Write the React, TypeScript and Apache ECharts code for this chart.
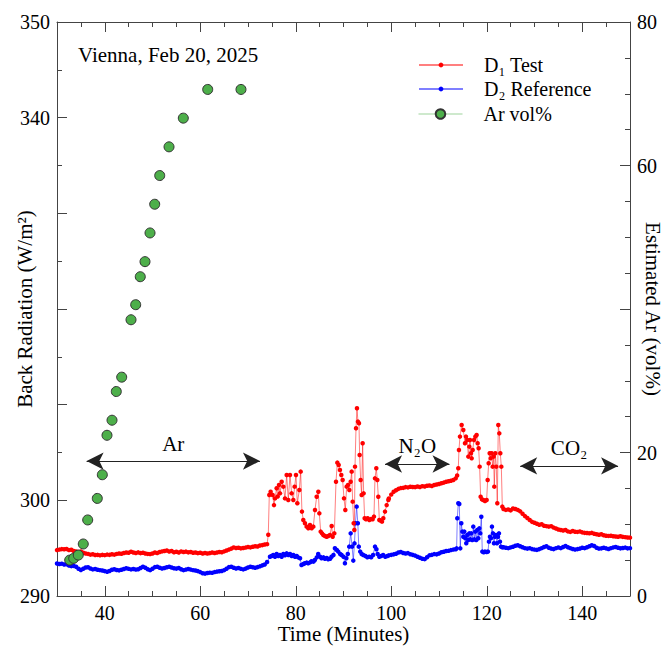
import React, { useEffect, useRef } from "react";
import * as echarts from "echarts";

// ---- axis ticks / labels ----
const timeMajorTicks = [40, 60, 80, 100, 120, 140];
const radiationLabels = [290, 300, 340, 350];
const argonLabels = [0, 20, 60, 80];

// ---- D1 Test (W/m²) ----
// regular 0.5 min samples, 30 → 74 min
const d1Early = [
  294.8, 294.85, 294.9, 294.88, 294.92, 294.8, 294.84, 294.7, 294.66, 294.6,
  294.65, 294.52, 294.45, 294.4, 294.32, 294.36, 294.28, 294.3, 294.25, 294.3,
  294.27, 294.33, 294.3, 294.36, 294.32, 294.4, 294.45, 294.42, 294.5, 294.55,
  294.52, 294.62, 294.55, 294.5, 294.56, 294.48, 294.52, 294.45, 294.4, 294.38,
  294.45, 294.55, 294.5, 294.6, 294.66, 294.7, 294.75, 294.65, 294.7, 294.58,
  294.62, 294.55, 294.66, 294.6, 294.64, 294.56, 294.6, 294.52, 294.55, 294.48,
  294.52, 294.45, 294.5, 294.44, 294.48, 294.55, 294.5, 294.55, 294.6, 294.58,
  294.66, 294.75, 294.85, 294.95, 295.08, 295.02, 295.05, 294.98, 295.02, 295.06,
  295.12, 295.08, 295.15, 295.2, 295.18, 295.28, 295.32, 295.38, 295.42,
];
// Ar flushing, 74 → 99.4 min
const d1BurstAr: [number, number][] = [
  [74.25, 296.4], [74.46, 300.56], [74.74, 300.9], [75.16, 300.56], [75.44, 299.5],
  [75.65, 300.2], [76.0, 301.26], [76.21, 300.4], [76.49, 301.6], [76.7, 300.73],
  [77.05, 301.95], [77.4, 301.43], [77.75, 300.2], [78.1, 302.65], [78.44, 300.04],
  [78.79, 302.65], [79.14, 300.73], [79.49, 300.04], [79.77, 301.43], [80.05, 302.65],
  [80.33, 299.69], [80.75, 301.08], [81.03, 303.0], [81.3, 298.82], [81.58, 297.95],
  [81.93, 297.6], [82.28, 297.25], [82.63, 297.08], [82.98, 297.42], [83.33, 297.08],
  [83.68, 297.25], [84.03, 298.99], [84.38, 300.38], [84.73, 300.9], [84.94, 298.64],
  [85.22, 296.73], [85.5, 296.55], [85.77, 296.38], [86.12, 296.27], [86.47, 296.2],
  [86.82, 296.27], [87.17, 296.38], [87.52, 297.32], [87.73, 296.2], [88.08, 296.55],
  [88.43, 301.95], [88.71, 303.94], [88.99, 303.7], [89.26, 303.17], [89.54, 302.65],
  [89.82, 302.13], [90.1, 300.21], [90.38, 298.99], [90.66, 301.43], [90.94, 301.6],
  [91.22, 301.08], [91.5, 301.95], [91.71, 303.0], [91.92, 299.86], [92.13, 297.6],
  [92.27, 296.9], [92.41, 303.52], [92.62, 307.53], [92.82, 309.62], [93.03, 308.23],
  [93.24, 308.05], [93.38, 304.74], [93.59, 302.13], [93.8, 300.56], [94.01, 305.96],
  [94.22, 300.73], [94.43, 298.12], [94.71, 298.02], [95.06, 298.12], [95.41, 297.95],
  [95.76, 298.05], [96.1, 298.02], [96.38, 298.3], [96.59, 302.3], [96.87, 303.35],
  [97.08, 302.13], [97.29, 300.38], [97.5, 297.95], [97.78, 297.88], [98.06, 297.77],
  [98.34, 298.12], [98.69, 298.82], [99.04, 299.5], [99.39, 300.04],
];
// N2O flushing, 99.5 → 113.5 min
const d1Mid = [
  300.2, 300.6, 300.9, 301.05, 301.2, 301.28, 301.3, 301.38, 301.35, 301.42,
  301.4, 301.38, 301.45, 301.4, 301.48, 301.45, 301.52, 301.55, 301.5, 301.6,
  301.65, 301.7, 301.78, 301.85, 301.95, 302.0, 302.05, 302.12, 302.3,
];
// second burst, 113.8 → 123.3 min
const d1BurstN2O: [number, number][] = [
  [113.8, 302.6], [114.04, 303.35], [114.18, 305.26], [114.39, 306.66], [114.74, 307.88],
  [115.09, 307.35], [115.44, 305.96], [115.65, 306.66], [115.93, 306.31], [116.14, 304.57],
  [116.35, 305.61], [116.49, 306.31], [116.7, 304.92], [116.84, 304.39], [117.05, 305.26],
  [117.33, 306.31], [117.61, 306.66], [117.88, 306.83], [118.09, 305.96], [118.3, 305.44],
  [118.51, 303.52], [118.72, 300.38], [119.0, 300.1], [119.28, 300.04], [119.63, 299.93],
  [119.98, 300.04], [120.19, 302.13], [120.4, 303.87], [120.61, 304.92], [120.82, 304.39],
  [121.03, 304.92], [121.24, 303.52], [121.44, 304.57], [121.58, 301.43], [121.79, 304.92],
  [122.0, 303.52], [122.21, 299.69], [122.42, 307.88], [122.63, 307.0], [122.84, 304.92],
  [123.05, 303.52], [123.26, 299.34],
];
// CO2 flushing, 123.5 → 150 min
const d1Late = [
  299.1, 299.0, 299.05, 298.95, 299.15, 299.1, 299.0, 298.85, 298.6, 298.35,
  298.15, 297.95, 297.75, 297.65, 297.55, 297.45, 297.5, 297.35, 297.3, 297.25,
  297.3, 297.15, 297.05, 296.95, 296.9, 296.85, 296.9, 296.75, 296.7, 296.8,
  296.72, 296.7, 296.75, 296.65, 296.6, 296.58, 296.55, 296.6, 296.5, 296.45,
  296.4, 296.45, 296.35, 296.3, 296.28, 296.3, 296.25, 296.22, 296.2, 296.25,
  296.18, 296.15, 296.12, 296.1,
];

// ---- D2 Reference (W/m²) ----
const d2Early = [
  293.4, 293.35, 293.38, 293.3, 293.32, 293.18, 293.12, 293.15, 293.05, 292.85,
  292.72, 292.85, 292.98, 293.0, 292.88, 292.78, 292.82, 292.74, 292.7, 292.66,
  292.6, 292.54, 292.62, 292.75, 292.8, 292.72, 292.68, 292.74, 292.82, 292.9,
  292.84, 292.78, 292.82, 292.76, 292.8, 292.92, 293.05, 292.95, 292.8, 292.7,
  292.85, 293.02, 293.05, 292.95, 292.88, 292.92, 293.0, 293.06, 292.98, 292.9,
  292.86, 292.92, 292.8, 292.7, 292.76, 292.82, 292.76, 292.7, 292.66, 292.6,
  292.5, 292.38, 292.34, 292.4, 292.44, 292.42, 292.5, 292.55, 292.58, 292.62,
  292.7, 292.85, 293.02, 293.06, 292.96, 292.88, 292.92, 292.84, 292.78, 292.86,
  292.98, 293.06, 293.0, 292.96, 293.02, 293.1, 293.2, 293.3, 293.55,
];
const d2BurstAr: [number, number][] = [
  [74.6, 294.1], [74.95, 294.18], [75.3, 294.29], [75.65, 294.11], [76.0, 294.39],
  [76.35, 294.18], [76.7, 294.29], [77.05, 294.11], [77.4, 294.39], [77.75, 294.25],
  [78.1, 294.46], [78.45, 294.29], [78.8, 294.39], [79.15, 294.18], [79.5, 294.29],
  [79.84, 294.11], [80.2, 294.18], [80.5, 294.04], [80.9, 293.94], [81.2, 293.24],
  [81.6, 293.35], [81.9, 293.42], [82.3, 293.49], [82.6, 293.42], [83.0, 293.52],
  [83.3, 293.63], [83.7, 293.59], [84.0, 293.77], [84.4, 294.04], [84.7, 294.39],
  [85.1, 294.11], [85.4, 293.94], [85.8, 294.04], [86.1, 293.9], [86.5, 293.97],
  [86.8, 293.84], [87.2, 293.9], [87.5, 294.11], [87.9, 294.29], [88.2, 294.99],
  [88.6, 294.81], [88.9, 294.64], [89.3, 294.39], [89.6, 294.29], [90.0, 294.11],
  [90.3, 293.42], [90.6, 293.94], [90.9, 294.39], [91.2, 295.16], [91.5, 296.55],
  [91.8, 295.16], [92.05, 293.7], [92.3, 295.5], [92.5, 297.6], [92.75, 299.34],
  [93.0, 297.6], [93.2, 295.16], [93.5, 294.64], [93.8, 294.39], [94.15, 294.29],
  [94.6, 294.18], [95.0, 294.04], [95.4, 294.11], [95.8, 294.04], [96.2, 294.29],
  [96.6, 295.16], [96.9, 294.88], [97.15, 294.39], [97.5, 294.11], [97.9, 294.18],
  [98.3, 294.29], [98.75, 294.11], [99.2, 294.18],
];
const d2Mid = [
  294.25, 294.3, 294.35, 294.42, 294.55, 294.6, 294.5, 294.45, 294.48, 294.36,
  294.3, 294.22, 294.1, 294.0, 293.9, 293.85, 294.05, 294.25, 294.3, 294.38,
  294.35, 294.45, 294.58, 294.62, 294.7, 294.72, 294.8, 294.85, 294.88,
];
const d2BurstN2O: [number, number][] = [
  [113.69, 294.98], [113.83, 298.12], [114.04, 299.69], [114.25, 299.62], [114.46, 294.98],
  [114.67, 297.6], [114.88, 296.73], [115.09, 296.2], [115.3, 296.73], [115.5, 296.03],
  [115.71, 295.51], [115.92, 296.38], [116.13, 295.86], [116.34, 296.55], [116.55, 295.92],
  [116.76, 296.55], [116.97, 295.86], [117.18, 297.25], [117.39, 295.92], [117.6, 296.73],
  [117.81, 295.86], [118.02, 296.9], [118.23, 296.03], [118.44, 297.07], [118.65, 296.55],
  [118.86, 298.29], [119.07, 294.64], [119.35, 294.57], [119.62, 294.64], [119.97, 294.6],
  [120.25, 294.64], [120.46, 295.68], [120.67, 296.2], [120.88, 296.03], [121.09, 297.25],
  [121.3, 296.55], [121.51, 295.51], [121.72, 296.2], [121.93, 296.38], [122.14, 295.51],
  [122.35, 296.2], [122.56, 296.55], [122.77, 295.68], [122.98, 295.16], [123.25, 295.09],
];
const d2Late = [
  295.1, 295.05, 295.0, 295.08, 295.15, 295.25, 295.3, 295.2, 295.1, 295.0,
  294.95, 295.0, 294.9, 294.85, 294.82, 294.9, 295.0, 295.12, 295.2, 295.05,
  294.95, 294.9, 295.0, 295.08, 295.0, 295.12, 295.22, 295.1, 295.0, 294.92,
  294.85, 294.9, 294.95, 295.05, 295.0, 295.1, 295.2, 295.3, 295.22, 295.05,
  294.95, 294.98, 295.05, 294.98, 294.92, 295.0, 295.08, 295.12, 295.05, 294.98,
  295.02, 295.06, 294.98, 295.0,
];

// ---- estimated Ar content (vol%) ----
const argonTime = [
  32.66, 33.5, 34.46, 35.5, 36.43, 38.44, 39.49, 40.47, 41.52, 42.42, 43.55,
  45.5, 46.48, 47.44, 48.43, 49.48, 50.46, 51.51, 53.46, 56.45, 61.56, 68.53,
];
const argonVol = [
  5.0, 5.25, 5.7, 7.25, 10.6, 13.6, 16.9, 22.4, 24.5, 28.5, 30.5,
  38.5, 40.6, 44.5, 46.6, 50.6, 54.6, 58.6, 62.6, 66.6, 70.6, 70.6,
];

// ---- gas flushing spans (minutes, W/m² level) ----
const spanNames = ["Ar", "N₂O", "CO₂"];
const spanStart = [36.2, 98.7, 127.0];
const spanEnd = [72.5, 112.2, 147.5];
const spanLevel = [304.1, 303.8, 303.6];

const FONT = "'Liberation Serif', 'Times New Roman', Times, serif";
const AXIS_COLOR = "#444";

function sampled(start: number, step: number, values: number[]): [number, number][] {
  return values.map((v, i) => [Number((start + i * step).toFixed(2)), v]);
}

const testData = [
  ...sampled(30, 0.5, d1Early),
  ...d1BurstAr,
  ...sampled(99.5, 0.5, d1Mid),
  ...d1BurstN2O,
  ...sampled(123.5, 0.5, d1Late),
];
const referenceData = [
  ...sampled(30, 0.5, d2Early),
  ...d2BurstAr,
  ...sampled(99.5, 0.5, d2Mid),
  ...d2BurstN2O,
  ...sampled(123.5, 0.5, d2Late),
];
const argonData = argonTime.map((t, i) => [t, argonVol[i]]);

function buildOption() {
  const lineStyle = { color: AXIS_COLOR, width: 1 };
  const labelText = { fontFamily: FONT, fontSize: 20, color: "#000" };
  const nameText = { fontFamily: FONT, fontSize: 21, color: "#000" };
  const timeAxisBase = {
    type: "value",
    min: 30,
    max: 150,
    splitLine: { show: false },
  };

  return {
    animation: false,
    backgroundColor: "#ffffff",
    textStyle: { fontFamily: FONT },
    title: {
      text: "Vienna, Feb 20, 2025",
      left: 78,
      top: 44,
      padding: 0,
      textStyle: { fontFamily: FONT, fontSize: 21, fontWeight: "normal", color: "#000" },
    },
    grid: { left: 57, right: 38, top: 22, bottom: 52, containLabel: false, outerBoundsMode: "none" },
    legend: [
      {
        orient: "vertical",
        left: 418,
        top: 55,
        padding: 0,
        itemWidth: 44,
        itemHeight: 6,
        itemGap: 4,
        data: ["D₁ Test", "D₂ Reference"],
        textStyle: { ...labelText, padding: [0, 0, 0, 16] },
      },
      {
        orient: "vertical",
        left: 418,
        top: 104,
        padding: 0,
        itemWidth: 44,
        itemHeight: 12,
        data: [{ name: "Ar vol%", lineStyle: { opacity: 0.55, width: 1, color: "#4daf4a" } }],
        textStyle: { ...labelText, padding: [0, 0, 0, 16] },
      },
    ],
    xAxis: [
      {
        ...timeAxisBase,
        interval: 5,
        position: "bottom",
        axisLine: { show: true, onZero: false, lineStyle },
        axisTick: { show: true, inside: true, length: 5, lineStyle },
        axisLabel: { ...labelText, lineHeight: 18, margin: 8, customValues: timeMajorTicks },
        name: "Time (Minutes)",
        nameLocation: "middle",
        nameGap: 28,
        nameMoveOverlap: false,
        nameTextStyle: { ...nameText, lineHeight: 20 },
      },
      {
        ...timeAxisBase,
        position: "bottom",
        axisLine: { show: false },
        axisTick: { show: true, inside: true, length: 10, lineStyle, customValues: timeMajorTicks },
        axisLabel: { show: false },
      },
      {
        ...timeAxisBase,
        interval: 5,
        position: "top",
        axisLine: { show: true, onZero: false, lineStyle },
        axisTick: { show: true, inside: true, length: 5, lineStyle },
        axisLabel: { show: false },
      },
      {
        ...timeAxisBase,
        position: "top",
        axisLine: { show: false },
        axisTick: { show: true, inside: true, length: 10, lineStyle, customValues: timeMajorTicks },
        axisLabel: { show: false },
      },
    ],
    yAxis: [
      {
        type: "value",
        min: 290,
        max: 350,
        interval: 10,
        position: "left",
        axisLine: { show: true, onZero: false, lineStyle },
        axisTick: { show: true, inside: true, length: 10, lineStyle },
        minorTick: { show: true, splitNumber: 2, length: 5, lineStyle },
        axisLabel: { ...labelText, margin: 7, customValues: radiationLabels },
        splitLine: { show: false },
        name: "Back Radiation (W/m²)",
        nameLocation: "middle",
        nameGap: 22,
        nameMoveOverlap: false,
        nameTextStyle: nameText,
      },
      {
        type: "value",
        min: 0,
        max: 80,
        interval: 20,
        position: "right",
        axisLine: { show: true, onZero: false, lineStyle },
        axisTick: { show: true, inside: true, length: 10, lineStyle },
        minorTick: { show: true, splitNumber: 4, length: 5, lineStyle },
        axisLabel: { ...labelText, margin: 7, customValues: argonLabels },
        splitLine: { show: false },
        name: "Estimated Ar (vol%)",
        nameLocation: "middle",
        nameRotate: -90,
        nameGap: 12,
        nameMoveOverlap: false,
        nameTextStyle: nameText,
      },
    ],
    series: [
      {
        name: "D₁ Test",
        type: "line",
        xAxisIndex: 0,
        yAxisIndex: 0,
        data: testData,
        symbol: "circle",
        symbolSize: 4.5,
        showSymbol: true,
        lineStyle: { color: "#ff0000", width: 1, opacity: 0.5 },
        itemStyle: { color: "#ff0000" },
        emphasis: { disabled: true },
        z: 3,
        markLine: {
          silent: true,
          animation: false,
          symbol: ["arrow", "arrow"],
          symbolSize: [13, 17],
          lineStyle: { color: "#222", width: 1, type: "solid" },
          label: {
            show: true,
            position: "middle",
            formatter: "{b}",
            distance: 7,
            fontFamily: FONT,
            fontSize: 21,
            color: "#000",
          },
          emphasis: { disabled: true },
          data: spanNames.map((name, i) => [
            { name, coord: [spanStart[i], spanLevel[i]] },
            { coord: [spanEnd[i], spanLevel[i]] },
          ]),
        },
      },
      {
        name: "D₂ Reference",
        type: "line",
        xAxisIndex: 0,
        yAxisIndex: 0,
        data: referenceData,
        symbol: "circle",
        symbolSize: 4.5,
        showSymbol: true,
        lineStyle: { color: "#0000ff", width: 1, opacity: 0.5 },
        itemStyle: { color: "#0000ff" },
        emphasis: { disabled: true },
        z: 2,
      },
      {
        name: "Ar vol%",
        type: "line",
        xAxisIndex: 0,
        yAxisIndex: 1,
        data: argonData,
        symbol: "circle",
        symbolSize: 10,
        showSymbol: true,
        lineStyle: { color: "#4daf4a", width: 1, opacity: 0 },
        itemStyle: { color: "#4daf4a", borderColor: "#333", borderWidth: 1 },
        emphasis: { disabled: true },
        z: 5,
      },
    ],
  };
}

export default function App() {
  const ref = useRef<HTMLDivElement | null>(null);

  useEffect(() => {
    if (!ref.current) return;
    const chart = echarts.init(ref.current, undefined, { renderer: "svg" });
    chart.setOption(buildOption() as any);
    return () => chart.dispose();
  }, []);

  return (
    <div
      ref={ref}
      style={{ position: "absolute", left: 0, top: 0, width: 668, height: 648, background: "#fff" }}
    />
  );
}
